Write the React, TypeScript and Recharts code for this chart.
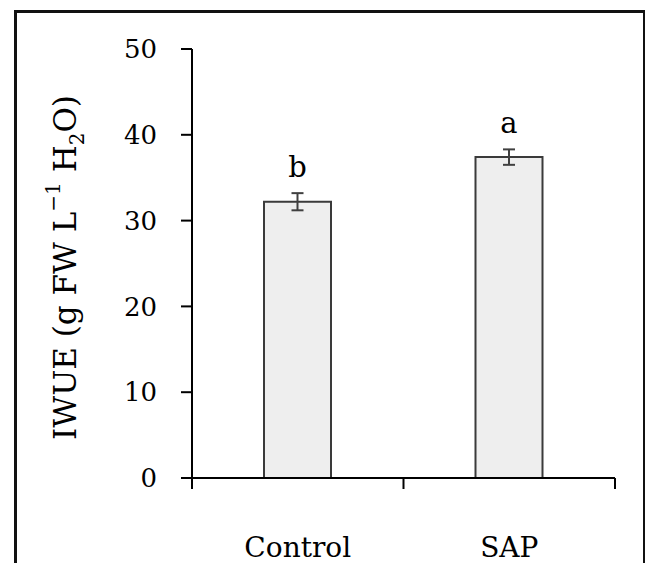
import React from 'react';
import { BarChart, Bar, XAxis, YAxis, ErrorBar, LabelList, Label } from 'recharts';

const categories = ['Control', 'SAP'];
const iwue = [32.2, 37.4];
const iwueErr = [1.0, 0.9];
const letters = ['b', 'a'];
const yTicks = [0, 10, 20, 30, 40, 50];
// fractions of the x span where the category edge ticks sit
const edgeTicks = [0, 0.5, 1];

const data = categories.map((name, i) => ({
  name,
  value: iwue[i],
  err: iwueErr[i],
  letter: letters[i],
}));

const FONT = '"DejaVu Serif", "Liberation Serif", serif';

// letter sits above the error bar cap
const LetterLabel = (props: any) => {
  const { x, y, width, height, value, index } = props;
  const perUnit = height / iwue[index];
  const top = y - iwueErr[index] * perUnit;
  return (
    <text x={x + width / 2} y={top - 16} textAnchor="middle" fontFamily={FONT} fontSize={29} fill="#000">
      {value}
    </text>
  );
};

// tick marks between categories (drawn as the tick itself)
const EdgeTick = (props: any) => {
  const { x, y } = props;
  return <line x1={x} x2={x} y1={y - 11} y2={y} stroke="#000" strokeWidth={2} />;
};

const YTitle = (props: any) => {
  const { viewBox } = props;
  const cx = viewBox.x + 25;
  const cy = viewBox.y + viewBox.height / 2 + 4;
  return (
    <text
      x={cx}
      y={cy}
      transform={`rotate(-90 ${cx} ${cy})`}
      textAnchor="middle"
      dominantBaseline="central"
      fontFamily={FONT}
      fontSize={31}
      fill="#000"
    >
      IWUE (g FW L
      <tspan baselineShift="super" fontSize={20}>−1</tspan>
      <tspan> H</tspan>
      <tspan baselineShift="sub" fontSize={20}>2</tspan>
      <tspan>O)</tspan>
    </text>
  );
};

const App: React.FC = () => {
  return (
    <div style={{ position: 'absolute', left: 0, top: 0, width: 645, height: 563, background: '#fff', overflow: 'hidden' }}>
      <div
        style={{
          position: 'absolute',
          left: 14,
          top: 10,
          width: 626,
          height: 600,
          borderLeft: '3px solid #111',
          borderTop: '3px solid #111',
          borderRight: '3px solid #111',
        }}
      />
      <div style={{ position: 'absolute', left: 0, top: 0 }}>
        <BarChart width={645} height={563} data={data} margin={{ top: 49, right: 30, bottom: 0, left: 40 }}>
          <XAxis
            xAxisId="a_edges"
            type="number"
            domain={[0, 1]}
            ticks={edgeTicks}
            interval={0}
            tick={<EdgeTick />}
            tickLine={false}
            tickSize={11}
            tickMargin={0}
            height={1}
            axisLine={{ stroke: '#000', strokeWidth: 2 }}
            allowDataOverflow
          />
          <XAxis
            xAxisId="b_cat"
            dataKey="name"
            height={84}
            axisLine={false}
            tickLine={false}
            tickSize={0}
            tickMargin={58}
            interval={0}
            tick={{ fontFamily: FONT, fontSize: 28, fill: '#000' }}
          />
          <YAxis
            domain={[0, 50]}
            ticks={yTicks}
            interval={0}
            width={152}
            tickSize={11}
            tickMargin={24}
            axisLine={{ stroke: '#000', strokeWidth: 2 }}
            tickLine={{ stroke: '#000', strokeWidth: 2 }}
            tick={{ fontFamily: FONT, fontSize: 26, fill: '#000' }}
          >
            <Label content={<YTitle />} />
          </YAxis>
          <Bar
            xAxisId="b_cat"
            dataKey="value"
            barSize={67}
            fill="#eeeeee"
            stroke="#3a3a3a"
            strokeWidth={2}
            isAnimationActive={false}
          >
            <ErrorBar dataKey="err" width={6} stroke="#404040" strokeWidth={2} />
            <LabelList dataKey="letter" content={<LetterLabel />} />
          </Bar>
        </BarChart>
      </div>
    </div>
  );
};

export default App;
